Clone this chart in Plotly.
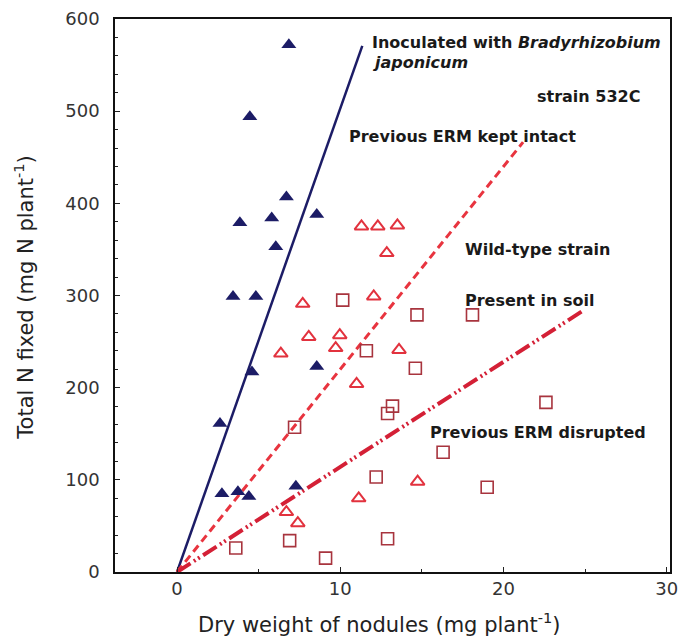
import plotly.graph_objects as go

# Inoculated with Bradyrhizobium japonicum, previous ERM kept intact (filled triangles)
inoc_x = [6.85, 4.46, 6.7, 3.85, 5.8, 8.56, 6.05, 3.43, 4.83, 4.59, 2.63, 8.56, 2.75, 3.73, 4.4, 7.28]
inoc_y = [572, 494, 407, 379, 384, 388, 353, 299, 299, 217, 161, 223, 85, 87, 82, 93]

# Wild-type strain, previous ERM kept intact (open triangles)
wild_intact_x = [11.3, 12.3, 13.5, 12.85, 7.7, 12.05, 8.07, 9.97, 9.72, 6.36, 11.0, 13.6, 14.74, 11.13, 6.7, 7.4]
wild_intact_y = [375, 375, 376, 346, 291, 299, 255, 257, 243, 237, 204, 241, 98, 80, 65, 53]

# Wild-type strain, previous ERM disrupted (open squares)
wild_disr_x = [10.15, 14.7, 18.1, 11.6, 14.6, 13.2, 12.9, 22.6, 16.3, 12.2, 19.0, 12.9, 7.2, 6.9, 3.6, 9.1]
wild_disr_y = [295, 279, 279, 240, 221, 180, 172, 184, 130, 103, 92, 36, 157, 34, 26, 15]

# regression lines through origin: slope and x extent
fit_names = ["inoculated", "intact", "disrupted"]
fit_slope = [50.3, 22.0, 11.4]
fit_xmax = [11.35, 21.2, 24.9]

x_ticks = [0, 10, 20, 30]
y_ticks = [0, 100, 200, 300, 400, 500, 600]

navy = "#1c1c66"
red = "#e2323e"
maroon = "#a8343e"
font_fam = "DejaVu Sans"

fig = go.Figure()

line_styles = [
    dict(color=navy, width=2.5, dash="solid"),
    dict(color="#e8343f", width=3, dash="8px,5px"),
    dict(color="#d42036", width=4, dash="16px,4px,2px,3px,2px,4px"),
]
for name, s, xm, ls in zip(fit_names, fit_slope, fit_xmax, line_styles):
    fig.add_trace(go.Scatter(x=[0, xm], y=[0, s * xm], mode="lines", line=ls,
                             showlegend=False, hoverinfo="skip"))

fig.add_trace(go.Scatter(x=inoc_x, y=inoc_y, mode="markers",
                         marker=dict(symbol="triangle-up", size=13, color=navy,
                                     line=dict(width=0)), showlegend=False))
fig.add_trace(go.Scatter(x=wild_intact_x, y=wild_intact_y, mode="markers",
                         marker=dict(symbol="triangle-up-open", size=12, color=red,
                                     line=dict(width=2, color=red)), showlegend=False))
fig.add_trace(go.Scatter(x=wild_disr_x, y=wild_disr_y, mode="markers",
                         marker=dict(symbol="square-open", size=12, color=maroon,
                                     line=dict(width=1.6, color=maroon)), showlegend=False))

ann_font = dict(family=font_fam, size=16, color="#1a1a1a", weight="bold")
annots = [
    ("Inoculated with <i>Bradyrhizobium</i>", 11.8, 575, "left"),
    ("<i>japonicum</i>", 11.8, 553, "left"),
    ("strain 532C", 28.5, 516, "right"),
    ("Previous ERM kept intact", 10.4, 472, "left"),
    ("Wild-type strain", 17.5, 350, "left"),
    ("Present in soil", 17.5, 295, "left"),
    ("Previous ERM disrupted", 15.35, 151, "left"),
]
for t, x, y, xa in annots:
    fig.add_annotation(x=x, y=y, text=t, showarrow=False, xanchor=xa, yanchor="middle",
                       font=ann_font)

title_font = dict(family=font_fam, size=21, color="#222")
fig.add_annotation(xref="paper", yref="paper", x=0.477, y=-0.092,
                   text="Dry weight of nodules (mg plant<sup>-1</sup>)", showarrow=False,
                   xanchor="center", yanchor="middle", font=title_font)
fig.add_annotation(xref="paper", yref="paper", x=-0.163, y=0.497, textangle=-90,
                   text="Total N fixed (mg N plant<sup>-1</sup>)", showarrow=False,
                   xanchor="center", yanchor="middle", font=title_font)

axis_common = dict(
    showline=True, linecolor="#111", linewidth=1.5, mirror=True,
    ticks="inside", tickcolor="#222", ticklen=5, tickwidth=1.2,
    showgrid=False, zeroline=False, automargin=False,
    tickfont=dict(family=font_fam, size=18, color="#333"),
)
fig.update_xaxes(range=[-3.8, 30.2], tickvals=x_ticks,
                 minor=dict(dtick=5, tick0=0, ticks="inside", ticklen=3, tickcolor="#222"),
                 **axis_common)
fig.update_yaxes(range=[0, 600], tickvals=y_ticks, ticklabelstandoff=10,
                 minor=dict(dtick=20, tick0=0, ticks="inside", ticklen=3, tickcolor="#222"),
                 **axis_common)

fig.update_layout(width=679, height=643, margin=dict(l=115, r=9, t=19, b=71),
                  paper_bgcolor="white", plot_bgcolor="white")

fig.write_html("out.html", config={"displayModeBar": False},
               post_script="document.body.style.margin='0';document.body.style.overflow='hidden';")
